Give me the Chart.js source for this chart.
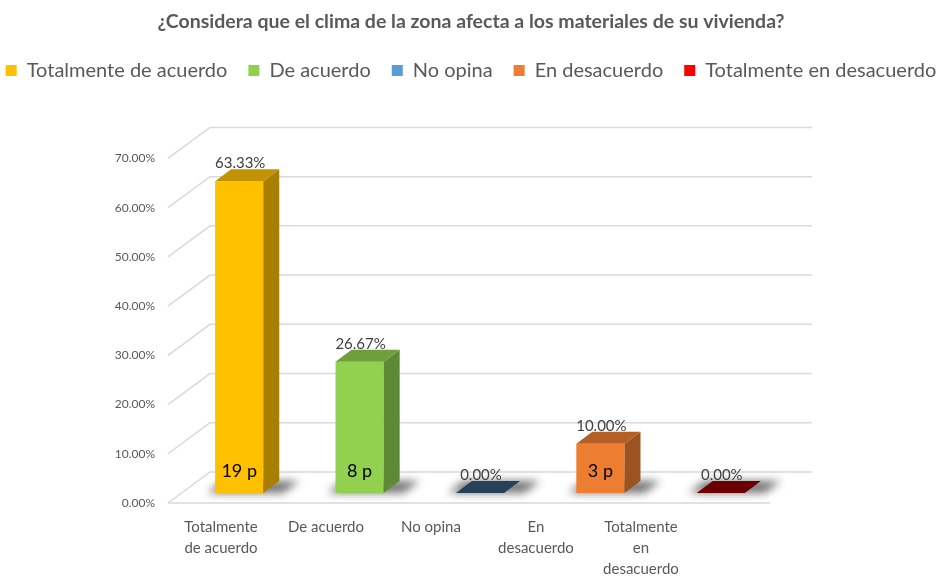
<!DOCTYPE html>
<html>
<head>
<meta charset="utf-8">
<script src="https://cdn.jsdelivr.net/npm/chart.js@4.4.1/dist/chart.umd.min.js"></script>
<style>
  html, body { margin: 0; padding: 0; background: #fff; }
  #wrap { width: 942px; height: 578px; }
</style>
</head>
<body>
<div id="wrap"><canvas id="chartClima"></canvas></div>
<script>
const categorias = ['Totalmente de acuerdo', 'De acuerdo', 'No opina', 'En desacuerdo', 'Totalmente en desacuerdo'];
const etiquetasEje = [['Totalmente', 'de acuerdo'], ['De acuerdo'], ['No opina'], ['En', 'desacuerdo'], ['Totalmente', 'en', 'desacuerdo']];
const porcentajes = [63.33, 26.67, 0, 10, 0];
const personas = [19, 8, 0, 3, 0];
const ticksY = [0, 10, 20, 30, 40, 50, 60, 70];
const colores = ['#FFC000', '#92D050', '#5B9BD5', '#ED7D31', '#FF0000'];

// desplazamientos de la vista 3D (pared del fondo, plano de las barras, profundidad de barra)
const FONDO = {x: 42, y: -31};
const PLANO = {x: 11, y: -10};
const PROF = {x: 16, y: -12};
const extraLeyenda = 68;

function oscurecer(hex, f) {
    const n = parseInt(hex.slice(1), 16);
    const r = Math.round(((n >> 16) & 255) * f);
    const g = Math.round(((n >> 8) & 255) * f);
    const b = Math.round((n & 255) * f);
    return 'rgb(' + r + ',' + g + ',' + b + ')';
}

function poligono(ctx, pts, color) {
    ctx.beginPath();
    ctx.moveTo(pts[0][0], pts[0][1]);
    for (let i = 1; i < pts.length; i++) ctx.lineTo(pts[i][0], pts[i][1]);
    ctx.closePath();
    ctx.fillStyle = color;
    ctx.fill();
}

// la leyenda cabe en una fila y deja sitio debajo
const legendaHolgura = {
    id: 'legendaHolgura',
    afterInit(chart) {
        const leyenda = chart.legend;
        const fit = leyenda.fit;
        const draw = leyenda.draw;
        leyenda.fit = function() {
            const mw = this.maxWidth;
            this.maxWidth = mw + 80;
            fit.call(this);
            this.maxWidth = mw;
            this.width = mw;
            this.height += extraLeyenda;
        };
        leyenda.draw = function() {
            this.left -= 40;
            this.right += 40;
            draw.call(this);
            this.left += 40;
            this.right -= 40;
        };
    }
};

const barras3d = {
    id: 'barras3d',
    beforeDatasetsDraw(chart) {
        const ctx = chart.ctx;
        const {left, right, bottom} = chart.chartArea;
        const ey = chart.scales.y;

        // paredes y suelo
        ctx.save();
        ctx.strokeStyle = '#d9d9d9';
        ctx.lineWidth = 1.5;
        ticksY.forEach(v => {
            const py = ey.getPixelForValue(v);
            ctx.beginPath();
            ctx.moveTo(left, py);
            ctx.lineTo(left + FONDO.x, py + FONDO.y);
            ctx.lineTo(right + FONDO.x, py + FONDO.y);
            ctx.stroke();
        });
        ctx.beginPath();
        ctx.moveTo(left, bottom);
        ctx.lineTo(right, bottom);
        ctx.stroke();
        ctx.restore();

        // plano de las barras
        ctx.save();
        ctx.translate(PLANO.x, PLANO.y);

        // sombras
        ctx.save();
        ctx.filter = 'blur(4px)';
        chart.getDatasetMeta(0).data.forEach(bar => {
            const {x, base, width} = bar.getProps(['x', 'base', 'width'], true);
            const l = x - width / 2 - 8, r = x + width / 2 + 20;
            poligono(ctx, [[l, base], [l + PROF.x, base + PROF.y], [r + PROF.x, base + PROF.y], [r, base]], 'rgba(0,0,0,0.55)');
        });
        ctx.restore();
    },
    afterDatasetsDraw(chart) {
        const ctx = chart.ctx;
        chart.getDatasetMeta(0).data.forEach((bar, i) => {
            const {x, y, base, width} = bar.getProps(['x', 'y', 'base', 'width'], true);
            const l = x - width / 2, r = x + width / 2;
            if (base - y > 0.5) {
                poligono(ctx, [[r, y], [r + PROF.x, y + PROF.y], [r + PROF.x, base + PROF.y], [r, base]], oscurecer(colores[i], 0.66));
                poligono(ctx, [[l, y], [l + PROF.x, y + PROF.y], [r + PROF.x, y + PROF.y], [r, y]], oscurecer(colores[i], 0.76));
            } else {
                poligono(ctx, [[l, base], [l + PROF.x, base + PROF.y], [r + PROF.x, base + PROF.y], [r, base]], oscurecer(colores[i], 0.42));
            }
            ctx.textAlign = 'center';
            ctx.textBaseline = 'middle';
            ctx.fillStyle = '#404040';
            ctx.font = '15px Lato';
            ctx.fillText(porcentajes[i].toFixed(2) + '%', x + 1, y - 18);
            if (personas[i] > 0) {
                ctx.fillStyle = '#000000';
                ctx.font = '18px Lato';
                ctx.fillText(personas[i] + ' p', x, base - 22);
            }
        });
        ctx.restore();
    }
};

Chart.defaults.font.family = 'Lato';

const chartClima = new Chart(document.getElementById('chartClima'), {
    type: 'bar',
    data: {
        labels: categorias,
        datasets: [{
            label: 'Porcentaje',
            data: porcentajes,
            backgroundColor: colores,
            borderWidth: 0,
            barPercentage: 0.4,
            categoryPercentage: 1.0,
            clip: false
        }]
    },
    options: {
        responsive: true,
        maintainAspectRatio: false,
        animation: false,
        layout: { padding: 0 },
        plugins: {
            title: {
                display: true,
                text: '¿Considera que el clima de la zona afecta a los materiales de su vivienda?',
                color: '#595959',
                font: { size: 19.5, weight: 'bold' },
                padding: { top: 10, bottom: 6 }
            },
            legend: {
                display: true,
                position: 'top',
                onClick: null,
                labels: {
                    color: '#595959',
                    font: { size: 20 },
                    boxWidth: 11,
                    boxHeight: 11,
                    padding: 21,
                    generateLabels() {
                        return categorias.map((c, i) => ({
                            text: c,
                            fillStyle: colores[i],
                            strokeStyle: colores[i],
                            lineWidth: 0,
                            hidden: false,
                            index: i,
                            fontColor: '#595959'
                        }));
                    }
                }
            },
            tooltip: { enabled: false }
        },
        scales: {
            x: {
                display: false,
                offset: true
            },
            x2: {
                type: 'linear',
                position: 'bottom',
                offset: false,
                beginAtZero: false,
                min: -0.505,
                max: 5.229,
                grid: { display: false, drawTicks: false, offset: false },
                border: { display: false },
                ticks: {
                    stepSize: 1,
                    includeBounds: false,
                    autoSkip: false,
                    maxRotation: 0,
                    padding: 14,
                    color: '#595959',
                    font: { size: 15, lineHeight: 1.4 },
                    callback: v => etiquetasEje[v] || ''
                },
                afterFit: s => { s.height = 75; }
            },
            y: {
                min: 0,
                max: 70,
                grid: { display: false, drawTicks: false },
                border: { display: false },
                ticks: {
                    stepSize: 10,
                    padding: 13,
                    color: '#595959',
                    font: { size: 12 },
                    callback: v => v.toFixed(2) + '%'
                },
                afterFit: s => { s.width = 168; }
            },
            y2: {
                position: 'right',
                grid: { display: false, drawTicks: false },
                border: { display: false },
                ticks: { display: false },
                afterFit: s => { s.width = 172; }
            }
        }
    },
    plugins: [legendaHolgura, barras3d]
});
</script>
</body>
</html>
